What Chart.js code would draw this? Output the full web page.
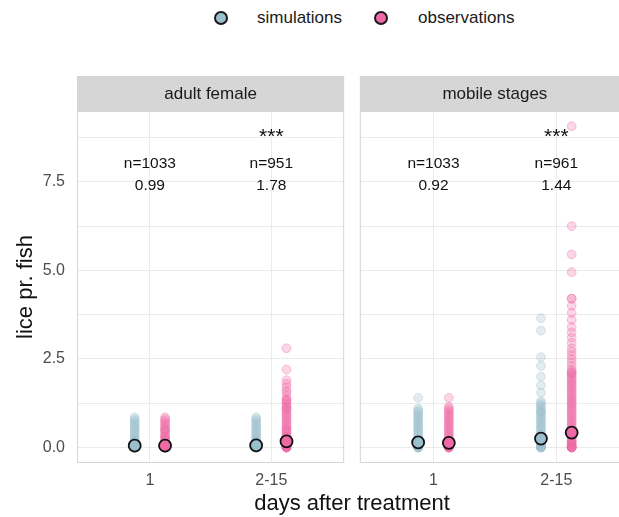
<!DOCTYPE html>
<html>
<head>
<meta charset="utf-8">
<script src="https://cdn.jsdelivr.net/npm/chart.js@4.4.0/dist/chart.umd.min.js"></script>
<style>
  body { margin: 0; width: 619px; height: 517px; overflow: hidden; position: relative; background: #fff;
         font-family: "Liberation Sans", Arial, sans-serif; }
  .box { position: absolute; }
  .key { position: absolute; width: 10px; height: 10px; border: 2px solid #1a1a1a; border-radius: 50%; }
  .lbl { position: absolute; font-size: 17px; line-height: 20px; color: #1a1a1a; }
  .title { position: absolute; font-size: 22px; line-height: 26px; color: #111; text-align: center; }
</style>
</head>
<body>
<div class="key" style="left:214px;top:11px;background:#9ac0cd"></div>
<div class="lbl" style="left:257px;top:8px">simulations</div>
<div class="key" style="left:374px;top:11px;background:#ee6aa7"></div>
<div class="lbl" style="left:418px;top:8px">observations</div>

<div class="box" style="left:0;top:76px"><canvas id="adult" width="352" height="420"></canvas></div>
<div class="box" style="left:352px;top:76px"><canvas id="mobile" width="288" height="420"></canvas></div>

<div class="title" style="left:-75px;top:274px;width:200px;transform:rotate(-90deg)">lice pr. fish</div>
<div class="title" style="left:202px;top:490px;width:300px">days after treatment</div>

<script>
var days = ['1', '2-15'];
var stages = ['adult female', 'mobile stages'];
var yTicks = [0, 2.5, 5, 7.5];
var yMinor = [1.25, 3.75, 6.25, 8.75];

// lice per fish, one value per sampled cage
var adultSimDay1 = [0, 0, 0, 0, 0, 0, 0.05, 0.05, 0.05, 0.1, 0.1, 0.1, 0.15, 0.15, 0.2, 0.2, 0.25, 0.3, 0.35, 0.4, 0.45, 0.5, 0.55, 0.6, 0.65, 0.7, 0.75, 0.8, 0.85];
var adultSimDay2 = [0, 0, 0, 0, 0, 0, 0.05, 0.05, 0.05, 0.1, 0.1, 0.15, 0.15, 0.2, 0.2, 0.25, 0.3, 0.35, 0.4, 0.45, 0.5, 0.55, 0.6, 0.65, 0.7, 0.75, 0.8, 0.85];
var adultObsDay1 = [0, 0, 0, 0, 0, 0, 0, 0.05, 0.05, 0.1, 0.1, 0.1, 0.15, 0.2, 0.2, 0.25, 0.3, 0.3, 0.35, 0.4, 0.45, 0.5, 0.5, 0.55, 0.6, 0.65, 0.7, 0.75, 0.8, 0.85];
var adultObsDay2 = [0, 0, 0, 0, 0, 0, 0, 0.05, 0.05, 0.1, 0.1, 0.1, 0.15, 0.15, 0.2, 0.2, 0.25, 0.3, 0.3, 0.35, 0.4, 0.45, 0.5, 0.5, 0.55, 0.6, 0.65, 0.7, 0.75, 0.8, 0.85, 0.9, 0.95, 1.0, 1.05, 1.1, 1.1, 1.15, 1.2, 1.25, 1.3, 1.35, 1.35, 1.45, 1.55, 1.6, 1.7, 1.8, 1.9, 2.2, 2.8];

var mobileSimDay1 = [0, 0, 0, 0, 0, 0, 0.05, 0.05, 0.1, 0.1, 0.15, 0.15, 0.2, 0.25, 0.3, 0.35, 0.4, 0.45, 0.5, 0.55, 0.6, 0.65, 0.7, 0.75, 0.8, 0.85, 0.9, 0.95, 1.0, 1.05, 1.1, 1.4];
var mobileSimDay2 = [0, 0, 0, 0, 0, 0, 0.05, 0.05, 0.1, 0.1, 0.15, 0.15, 0.2, 0.2, 0.25, 0.3, 0.35, 0.4, 0.45, 0.5, 0.55, 0.6, 0.65, 0.7, 0.75, 0.8, 0.85, 0.9, 0.95, 1.0, 1.0, 1.05, 1.1, 1.15, 1.2, 1.25, 1.3, 1.55, 1.75, 2.0, 2.3, 2.55, 3.3, 3.65];
var mobileObsDay1 = [0, 0, 0, 0, 0, 0, 0.05, 0.05, 0.1, 0.1, 0.15, 0.15, 0.2, 0.25, 0.3, 0.35, 0.4, 0.45, 0.5, 0.55, 0.6, 0.65, 0.7, 0.75, 0.8, 0.85, 0.9, 0.95, 1.0, 1.05, 1.1, 1.15, 1.4];
var mobileObsDay2 = [0, 0, 0, 0, 0, 0, 0, 0.05, 0.05, 0.1, 0.1, 0.15, 0.15, 0.2, 0.2, 0.25, 0.3, 0.35, 0.4, 0.45, 0.5, 0.55, 0.6, 0.65, 0.7, 0.75, 0.8, 0.85, 0.9, 0.95, 1.0, 1.05, 1.1, 1.15, 1.2, 1.25, 1.3, 1.35, 1.4, 1.45, 1.5, 1.55, 1.6, 1.65, 1.7, 1.75, 1.8, 1.85, 1.9, 1.95, 2.0, 2.05, 2.1, 2.1, 2.15, 2.2, 2.3, 2.4, 2.5, 2.6, 2.7, 2.8, 2.95, 3.1, 3.25, 3.4, 3.6, 3.8, 4.0, 4.2, 4.2, 4.95, 5.45, 6.25, 9.07];

// group means (outlined markers)
var adultSimMeans = [0.05, 0.06];
var adultObsMeans = [0.05, 0.17];
var mobileSimMeans = [0.14, 0.25];
var mobileObsMeans = [0.13, 0.42];

// text printed above each day group
var adultN = [1033, 951];
var adultStat = ['0.99', '1.78'];
var adultStars = ['', '***'];
var mobileN = [1033, 961];
var mobileStat = ['0.92', '1.44'];
var mobileStars = ['', '***'];

var simColor = '#9ac0cd';
var obsColor = '#ee6aa7';
var dodge = 0.125;
var font = '"Liberation Sans", Arial, sans-serif';

function pointsAt(values, dayIndex, offset) {
    return values.map(function (v) { return {x: dayIndex + 1 + offset, y: v}; });
}

function meanPoints(means, offset) {
    return means.map(function (m, i) { return {x: i + 1 + offset, y: m}; });
}

// strip header, panel frame and the n / statistic labels
var facetDecor = {
    id: 'facetDecor',
    beforeDraw: function (chart, args, opts) {
        var a = chart.chartArea;
        var ctx = chart.ctx;
        ctx.save();
        ctx.fillStyle = '#d6d6d6';
        ctx.fillRect(a.left, a.top - 35, a.right - a.left, 35);
        ctx.fillStyle = '#1a1a1a';
        ctx.font = '17px ' + font;
        ctx.textAlign = 'center';
        ctx.textBaseline = 'middle';
        ctx.fillText(opts.title, (a.left + a.right) / 2, a.top - 17);
        ctx.restore();
    },
    afterDatasetsDraw: function (chart, args, opts) {
        var a = chart.chartArea;
        var ctx = chart.ctx;
        var xs = chart.scales.x;
        var ys = chart.scales.y;
        ctx.save();
        ctx.strokeStyle = '#d4d4d4';
        ctx.lineWidth = 1;
        ctx.strokeRect(a.left + 0.5, a.top + 0.5, a.right - a.left - 1, a.bottom - a.top - 1);
        ctx.fillStyle = '#111';
        ctx.textAlign = 'center';
        ctx.textBaseline = 'middle';
        for (var i = 0; i < days.length; i++) {
            var x = xs.getPixelForValue(i + 1);
            ctx.font = '21px ' + font;
            ctx.fillText(opts.stars[i], x, ys.getPixelForValue(8.75));
            ctx.font = '15.5px ' + font;
            ctx.fillText('n=' + opts.n[i], x, ys.getPixelForValue(8.0));
            ctx.fillText(opts.stat[i], x, ys.getPixelForValue(7.4));
        }
        ctx.restore();
    }
};

function makePanel(id, stage, simDays, obsDays, simMeans, obsMeans, n, stat, stars, showY) {
    var ctx = document.getElementById(id);
    var simPts = pointsAt(simDays[0], 0, -dodge).concat(pointsAt(simDays[1], 1, -dodge));
    var obsPts = pointsAt(obsDays[0], 0, dodge).concat(pointsAt(obsDays[1], 1, dodge));

    return new Chart(ctx, {
        type: 'scatter',
        data: {
            datasets: [
                {
                    label: 'simulations',
                    data: simPts,
                    order: 2,
                    backgroundColor: 'rgba(154,192,205,0.28)',
                    borderColor: 'rgba(154,192,205,0.36)',
                    borderWidth: 1,
                    pointRadius: 4.4
                },
                {
                    label: 'observations',
                    data: obsPts,
                    order: 2,
                    backgroundColor: 'rgba(238,106,167,0.28)',
                    borderColor: 'rgba(238,106,167,0.36)',
                    borderWidth: 1,
                    pointRadius: 4.4
                },
                {
                    label: 'simulations mean',
                    data: meanPoints(simMeans, -dodge),
                    order: 0,
                    backgroundColor: simColor,
                    borderColor: '#111',
                    pointBackgroundColor: simColor,
                    pointBorderColor: '#111',
                    pointBorderWidth: 1.8,
                    pointRadius: 6
                },
                {
                    label: 'observations mean',
                    data: meanPoints(obsMeans, dodge),
                    order: 0,
                    backgroundColor: obsColor,
                    borderColor: '#111',
                    pointBackgroundColor: obsColor,
                    pointBorderColor: '#111',
                    pointBorderWidth: 1.8,
                    pointRadius: 6
                }
            ]
        },
        options: {
            responsive: false,
            animation: false,
            devicePixelRatio: 1,
            layout: {
                padding: showY ? {top: 35, left: 0, right: 6, bottom: 0} : {top: 35, left: 6, right: 10, bottom: 0}
            },
            plugins: {
                colors: {enabled: false},
                legend: {display: false},
                tooltip: {enabled: false},
                facetDecor: {title: stage, n: n, stat: stat, stars: stars}
            },
            scales: {
                x: {
                    type: 'linear',
                    min: 0.4,
                    max: 2.6,
                    afterBuildTicks: function (scale) {
                        scale.ticks = [{value: 1}, {value: 2}];
                    },
                    afterFit: function (scale) { scale.height = 33; },
                    ticks: {
                        padding: 8,
                        color: '#4d4d4d',
                        font: {family: font, size: 16},
                        callback: function (v) { return days[Math.round(v) - 1]; }
                    },
                    grid: {color: '#ebebeb', drawTicks: false},
                    border: {display: false}
                },
                y: {
                    min: -0.44,
                    max: 9.5,
                    afterBuildTicks: function (scale) {
                        scale.ticks = yTicks.concat(yMinor).sort(function (p, q) { return p - q; })
                            .map(function (v) { return {value: v}; });
                    },
                    afterFit: function (scale) { scale.width = showY ? 77 : 0; },
                    ticks: {
                        display: showY,
                        padding: 12,
                        color: '#4d4d4d',
                        font: {family: font, size: 16},
                        callback: function (v) { return yTicks.indexOf(v) >= 0 ? v.toFixed(1) : ''; }
                    },
                    grid: {color: '#ebebeb', drawTicks: false},
                    border: {display: false}
                }
            }
        },
        plugins: [facetDecor]
    });
}

makePanel('adult', stages[0], [adultSimDay1, adultSimDay2], [adultObsDay1, adultObsDay2],
    adultSimMeans, adultObsMeans, adultN, adultStat, adultStars, true);
makePanel('mobile', stages[1], [mobileSimDay1, mobileSimDay2], [mobileObsDay1, mobileObsDay2],
    mobileSimMeans, mobileObsMeans, mobileN, mobileStat, mobileStars, false);
</script>
</body>
</html>
